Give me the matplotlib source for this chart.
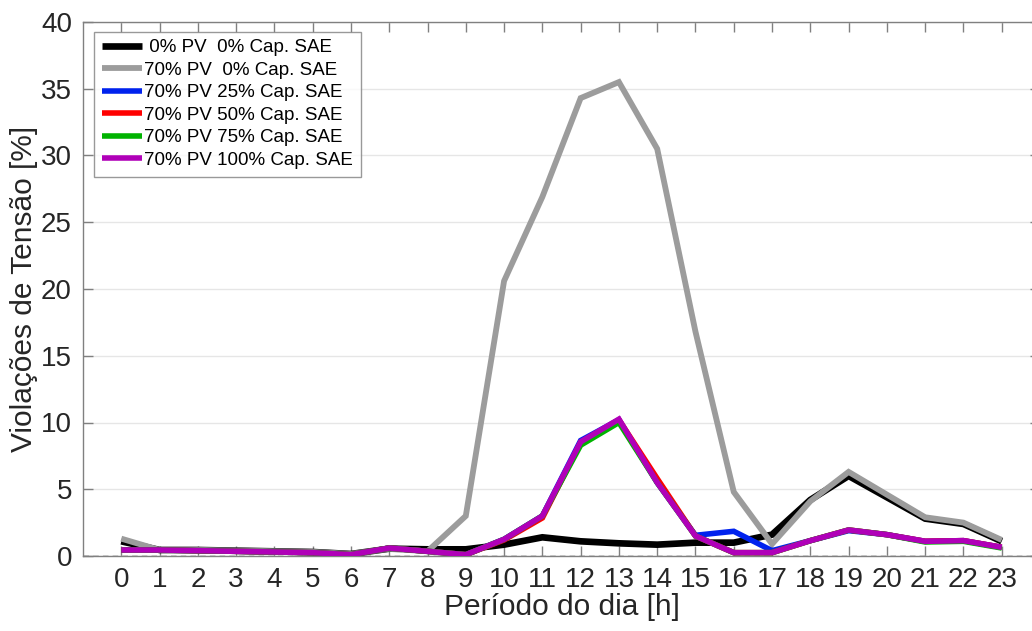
import matplotlib
matplotlib.use("Agg")
import matplotlib.pyplot as plt

plt.rcParams['font.family'] = ['Liberation Sans', 'DejaVu Sans']

hours = list(range(24))

pv0_sae0 = [1.1, 0.45, 0.45, 0.4, 0.35, 0.3, 0.15, 0.55, 0.5, 0.5, 0.85, 1.4,
            1.1, 0.95, 0.85, 1.0, 1.0, 1.6, 4.2, 6.0, 4.4, 2.8, 2.4, 1.1]
pv70_sae0 = [1.3, 0.45, 0.45, 0.4, 0.35, 0.3, 0.15, 0.55, 0.35, 3.0, 20.6, 26.9,
             34.3, 35.5, 30.5, 16.8, 4.8, 0.9, 4.1, 6.3, 4.6, 2.9, 2.5, 1.2]
pv70_sae25 = [0.45, 0.45, 0.4, 0.35, 0.3, 0.25, 0.1, 0.6, 0.35, 0.1, 1.25, 3.0,
              8.65, 10.2, 5.5, 1.55, 1.85, 0.4, 1.15, 1.9, 1.6, 1.1, 1.15, 0.65]
pv70_sae50 = [0.45, 0.45, 0.4, 0.35, 0.3, 0.25, 0.1, 0.6, 0.35, 0.1, 1.2, 2.85,
              8.5, 10.2, 5.8, 1.5, 0.25, 0.25, 1.15, 1.95, 1.6, 1.1, 1.15, 0.65]
pv70_sae75 = [0.45, 0.45, 0.4, 0.35, 0.3, 0.25, 0.1, 0.6, 0.35, 0.1, 1.25, 3.0,
              8.3, 10.0, 5.5, 1.5, 0.25, 0.25, 1.15, 1.95, 1.6, 1.05, 1.1, 0.6]
pv70_sae100 = [0.45, 0.45, 0.4, 0.35, 0.3, 0.25, 0.1, 0.6, 0.35, 0.1, 1.25, 3.0,
               8.55, 10.25, 5.5, 1.5, 0.25, 0.25, 1.15, 1.95, 1.6, 1.1, 1.15, 0.65]

labels = [' 0% PV  0% Cap. SAE', '70% PV  0% Cap. SAE', '70% PV 25% Cap. SAE',
          '70% PV 50% Cap. SAE', '70% PV 75% Cap. SAE', '70% PV 100% Cap. SAE']
series = [pv0_sae0, pv70_sae0, pv70_sae25, pv70_sae50, pv70_sae75, pv70_sae100]
colors = ['#000000', '#9c9c9c', '#0022ee', '#ff0000', '#00b300', '#b000b8']
widths = [4.8, 4.2, 4.0, 4.0, 4.0, 4.0]

fig = plt.figure(figsize=(10.32, 6.31), dpi=100)
# the right edge of the plot box runs past the figure border
ax = fig.add_axes([83 / 1032, 75 / 631, 957 / 1032, 534 / 631])

text_col = '#262626'
for s, c, w, lab in zip(series, colors, widths, labels):
    ax.plot(hours, s, color=c, lw=w, label=lab, solid_joinstyle='miter',
            solid_capstyle='butt', zorder=3)

ax.axhline(0, color='#333333', lw=1.0, ls=(0, (4, 3)), zorder=2)

ax.set_xlim(-1, 24)
ax.set_ylim(0, 40)
ax.set_xticks(hours)
ax.set_yticks(range(0, 41, 5))
ax.yaxis.grid(True, color='#e6e6e6', lw=1.0)
ax.set_axisbelow(True)

for side in ax.spines.values():
    side.set_color('#808080')
    side.set_linewidth(1.0)

ax.tick_params(direction='in', length=7, width=1.0, colors='#808080',
               labelcolor=text_col, labelsize=20, top=True, right=True)
ax.tick_params(axis='x', pad=8)
ax.tick_params(axis='y', pad=8)

ax.set_xlabel('Período do dia [h]', fontsize=21.5, color=text_col, labelpad=0)
ax.set_ylabel('Violações de Tensão [%]', fontsize=21.5, color=text_col, labelpad=2)

leg = ax.legend(loc='upper left', bbox_to_anchor=(0.012, 0.982), fontsize=13.5,
                frameon=True, fancybox=False, edgecolor='#808080',
                handlelength=2.15, handletextpad=0.1, labelspacing=0.29,
                borderpad=0.4, borderaxespad=0.0)
leg.get_frame().set_linewidth(1.0)
for t in leg.get_texts():
    t.set_color('#000000')

fig.savefig('out.png', dpi=100)
